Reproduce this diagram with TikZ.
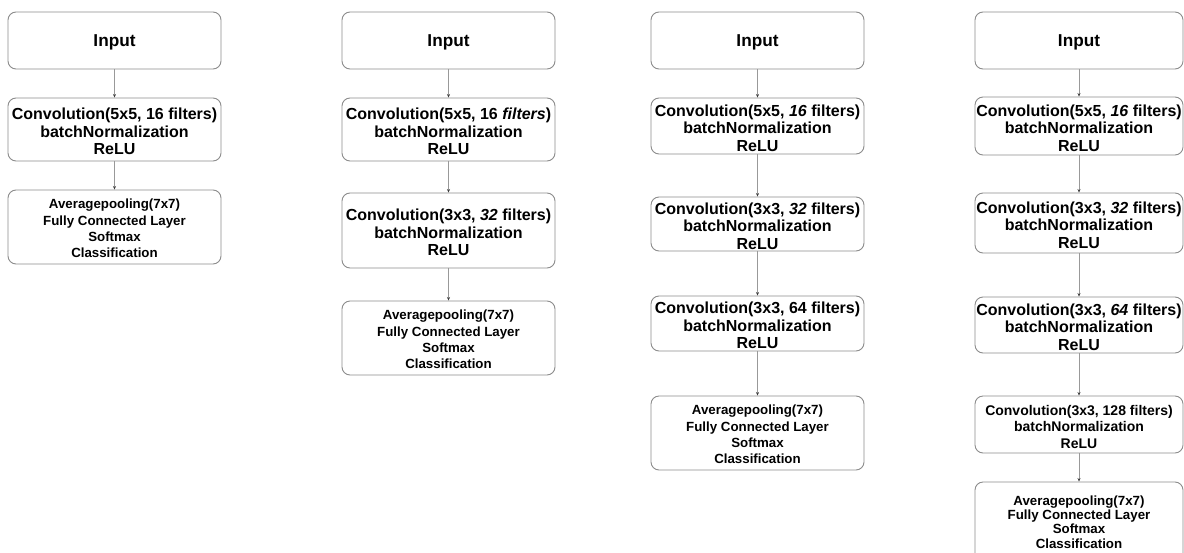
\documentclass[tikz,border=0pt]{standalone}
\usepackage{fontspec}
\setmainfont{Liberation Sans}
\usetikzlibrary{arrows.meta}
\begin{document}
\begin{tikzpicture}[x=1pt,y=-1pt,
  box/.style={draw=black!45, line width=0.9pt, rounded corners=8pt, inner sep=0pt, fill=white},
  txt/.style={align=center, inner sep=0pt},
  intxt/.style={txt, font=\bfseries\fontsize{17.2}{20}\selectfont},
  convtxt/.style={txt, font=\bfseries\fontsize{16}{17.5}\selectfont},
  smalltxt/.style={txt, font=\bfseries\fontsize{14}{16.5}\selectfont},
  avgtxt/.style={txt, font=\bfseries\fontsize{13.3}{16.2}\selectfont},
  arr/.style={draw=black!40, line width=0.7pt, -{Stealth[length=3.5pt,width=3pt,color=black!75]}}]
\useasboundingbox (0,0) rectangle (1184,552);
\fill[white] (0,0) rectangle (1184,552);
\begin{scope}
\clip (0,0) rectangle (1184,552);
% column 1
\node[box, minimum width=213pt, minimum height=57pt] (a0) at (114.5,40.5) {};
\node[box, minimum width=213pt, minimum height=63pt] (a1) at (114.5,129.5) {};
\node[box, minimum width=213pt, minimum height=74pt] (a2) at (114.5,227) {};
\node[intxt] (ta0) at ([yshift=-1.5pt]a0.center) {Input};
\node[convtxt] (ta1) at ([yshift=-2pt]a1.center) {Convolution(5x5, 16 filters)\\batchNormalization\\ReLU};
\node[avgtxt] (ta2) at ([yshift=-1.5pt]a2.center) {Averagepooling(7x7)\\Fully Connected Layer\\Softmax\\Classification};
\draw[arr] (a0) -- (a1);
\draw[arr] (a1) -- (a2);
% column 2
\node[box, minimum width=213pt, minimum height=57pt] (b0) at (448.5,40.5) {};
\node[box, minimum width=213pt, minimum height=63pt] (b1) at (448.5,129.5) {};
\node[box, minimum width=213pt, minimum height=75pt] (b2) at (448.5,230.5) {};
\node[box, minimum width=213pt, minimum height=74pt] (b3) at (448.5,338) {};
\node[intxt] (tb0) at ([yshift=-1.5pt]b0.center) {Input};
\node[convtxt] (tb1) at ([yshift=-2pt]b1.center) {Convolution(5x5, 16 \textit{filters})\\batchNormalization\\ReLU};
\node[convtxt] (tb2) at ([yshift=-2pt]b2.center) {Convolution(3x3, \textit{32} filters)\\batchNormalization\\ReLU};
\node[avgtxt] (tb3) at ([yshift=-1.5pt]b3.center) {Averagepooling(7x7)\\Fully Connected Layer\\Softmax\\Classification};
\draw[arr] (b0) -- (b1);
\draw[arr] (b1) -- (b2);
\draw[arr] (b2) -- (b3);
% column 3
\node[box, minimum width=213pt, minimum height=57pt] (c0) at (757.5,40.5) {};
\node[box, minimum width=213pt, minimum height=56pt] (c1) at (757.5,126) {};
\node[box, minimum width=213pt, minimum height=54pt] (c2) at (757.5,224) {};
\node[box, minimum width=213pt, minimum height=55pt] (c3) at (757.5,323.5) {};
\node[box, minimum width=213pt, minimum height=74pt] (c4) at (757.5,433) {};
\node[intxt] (tc0) at ([yshift=-1.5pt]c0.center) {Input};
\node[convtxt] (tc1) at ([yshift=-2pt]c1.center) {Convolution(5x5, \textit{16} filters)\\batchNormalization\\ReLU};
\node[convtxt] (tc2) at ([yshift=-2pt]c2.center) {Convolution(3x3, \textit{32} filters)\\batchNormalization\\ReLU};
\node[convtxt] (tc3) at ([yshift=-2pt]c3.center) {Convolution(3x3, 64 filters)\\batchNormalization\\ReLU};
\node[avgtxt] (tc4) at ([yshift=-1.5pt]c4.center) {Averagepooling(7x7)\\Fully Connected Layer\\Softmax\\Classification};
\draw[arr] (c0) -- (c1);
\draw[arr] (c1) -- (c2);
\draw[arr] (c2) -- (c3);
\draw[arr] (c3) -- (c4);
% column 4
\node[box, minimum width=208pt, minimum height=57pt] (d0) at (1079,40.5) {};
\node[box, minimum width=208pt, minimum height=58pt] (d1) at (1079,126) {};
\node[box, minimum width=208pt, minimum height=60pt] (d2) at (1079,223) {};
\node[box, minimum width=208pt, minimum height=56pt] (d3) at (1079,325) {};
\node[box, minimum width=208pt, minimum height=57pt] (d4) at (1079,424.5) {};
\node[box, minimum width=208pt, minimum height=84pt] (d5) at (1079,524) {};
\node[intxt] (td0) at ([yshift=-1.5pt]d0.center) {Input};
\node[convtxt] (td1) at ([yshift=-2pt]d1.center) {Convolution(5x5, \textit{16} filters)\\batchNormalization\\ReLU};
\node[convtxt] (td2) at ([yshift=-2pt]d2.center) {Convolution(3x3, \textit{32} filters)\\batchNormalization\\ReLU};
\node[convtxt] (td3) at ([yshift=-2pt]d3.center) {Convolution(3x3, \textit{64} filters)\\batchNormalization\\ReLU};
\node[smalltxt] (td4) at ([yshift=-2pt]d4.center) {Convolution(3x3, 128 filters)\\batchNormalization\\ReLU};
\node[txt, font=\bfseries\fontsize{13.3}{14.3}\selectfont] (td5) at (1079,522) {Averagepooling(7x7)\\Fully Connected Layer\\Softmax\\Classification};
\draw[arr] (d0) -- (d1);
\draw[arr] (d1) -- (d2);
\draw[arr] (d2) -- (d3);
\draw[arr] (d3) -- (d4);
\draw[arr] (d4) -- (d5);
\end{scope}
\end{tikzpicture}
\end{document}
